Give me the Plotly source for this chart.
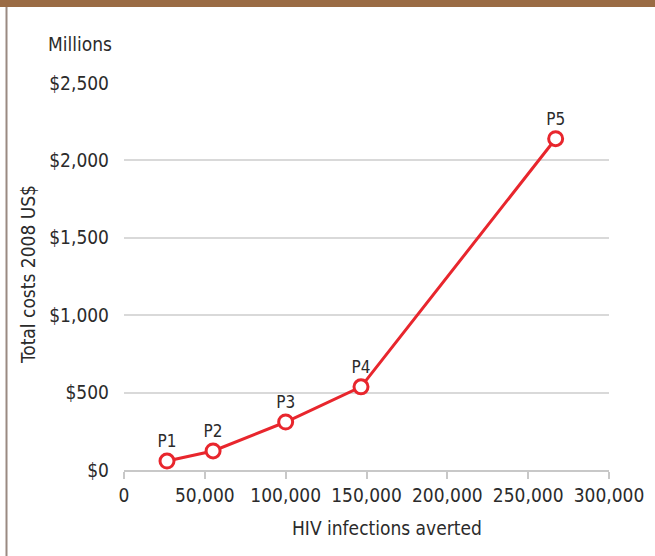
import plotly.graph_objects as go

# Data
labels = ["P1", "P2", "P3", "P4", "P5"]
infections_averted = [26600, 55100, 100000, 146600, 267000]
total_costs = [58, 123, 310, 537, 2140]

x_tickvals = [0, 50000, 100000, 150000, 200000, 250000, 300000]
x_ticktext = ["0", "50,000", "100,000", "150,000", "200,000", "250,000", "300,000"]
y_tickvals = [0, 500, 1000, 1500, 2000, 2500]
y_ticktext = ["$0", "$500", "$1,000", "$1,500", "$2,000", "$2,500"]

FONT = "DejaVu Sans Condensed, Liberation Sans Narrow, sans-serif"
TXT = "#2b2b2b"
RED = "#e8262d"

W, H = 655, 556
L, R, T, B = 124, 609, 83, 470  # plot area pixels


def px(xp):
    return (xp - L) / (R - L)


def py(yp):
    return (B - yp) / (B - T)


fig = go.Figure()
fig.add_trace(go.Scatter(
    x=infections_averted, y=total_costs, text=labels,
    mode="lines+markers+text", textposition="top center",
    textfont=dict(family=FONT, size=17, color=TXT),
    line=dict(color=RED, width=3),
    marker=dict(size=14, color="white", line=dict(color=RED, width=3)),
    cliponaxis=False, showlegend=False, hoverinfo="skip",
))

fig.update_layout(
    width=W, height=H,
    margin=dict(l=L, r=W - R, t=T, b=H - B),
    paper_bgcolor="white", plot_bgcolor="white",
    font=dict(family=FONT, size=19, color=TXT),
    xaxis=dict(range=[0, 300000], tickvals=x_tickvals, ticktext=x_ticktext,
               showgrid=False, zeroline=False, showline=True, linecolor="#c8c8c8",
               linewidth=1.5, ticks="outside", ticklen=7, tickcolor="#c8c8c8",
               tickwidth=1.5, tickfont=dict(family=FONT, size=19, color=TXT)),
    yaxis=dict(range=[0, 2500], tickvals=y_tickvals, ticktext=y_ticktext,
               showgrid=True, gridcolor="#d9d9d9", gridwidth=1.5, zeroline=False,
               showline=False, ticks="", ticklabelstandoff=14,
               tickfont=dict(family=FONT, size=19, color=TXT)),
    annotations=[
        dict(text="Millions", xref="paper", yref="paper", x=px(46), y=py(44),
             xanchor="left", yanchor="middle", showarrow=False,
             font=dict(family=FONT, size=19, color=TXT)),
        dict(text="Total costs 2008 US$", xref="paper", yref="paper", x=px(28),
             y=py(275), xanchor="center", yanchor="middle", textangle=-90,
             showarrow=False, font=dict(family=FONT, size=19, color=TXT)),
        dict(text="HIV infections averted", xref="paper", yref="paper", x=px(387),
             y=py(528), xanchor="center", yanchor="middle", showarrow=False,
             font=dict(family=FONT, size=19, color=TXT)),
    ],
    shapes=[
        dict(type="rect", xref="paper", yref="paper", x0=px(0), x1=px(655),
             y0=py(7), y1=py(0), fillcolor="#9a6b44", line=dict(width=0)),
        dict(type="line", xref="paper", yref="paper", x0=px(6.5), x1=px(6.5),
             y0=py(556), y1=py(7), line=dict(color="#9a8a82", width=2)),
    ],
)

fig.write_html("out.html", config={"displayModeBar": False},
               post_script="document.body.style.margin='0';document.body.style.overflow='hidden';")
